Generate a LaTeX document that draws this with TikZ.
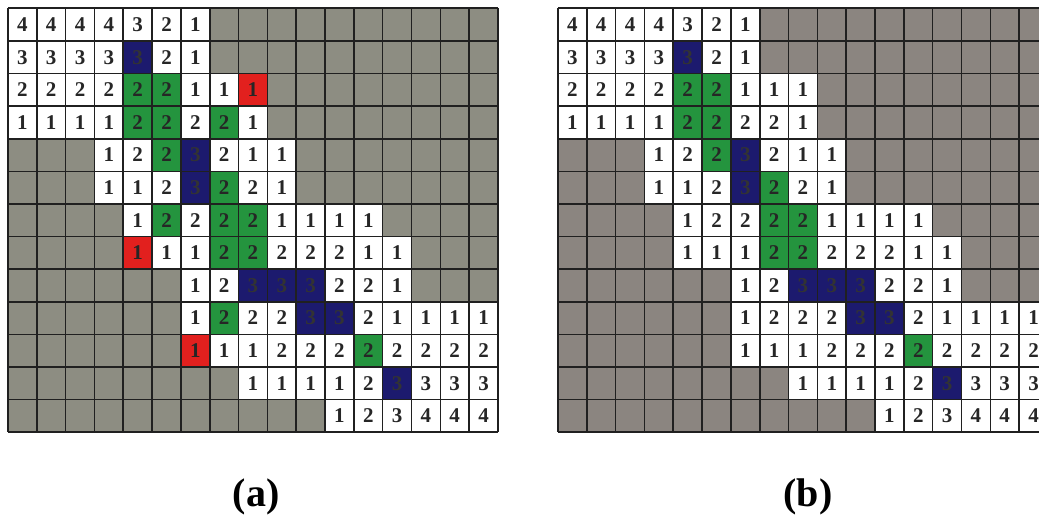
\documentclass[tikz,border=0pt]{standalone}
\usepackage{fontspec}
\setmainfont{Liberation Serif}
\usepackage{tikz}
\definecolor{cellGray}{RGB}{141,141,130}
\definecolor{cellGrayB}{RGB}{139,133,128}
\definecolor{cellGreen}{RGB}{36,148,62}
\definecolor{cellBlue}{RGB}{28,26,110}
\definecolor{cellRed}{RGB}{226,32,30}
\definecolor{gridInk}{RGB}{32,32,32}

\newcommand{\cellW}{28.82}
\newcommand{\cellH}{32.6}
%% row / {column/value/kind}: w white, g green, b blue, r red,
%% G and R are marked only in picture (a)
\newcommand{\pathcells}{%
  1/{1/4/w,2/4/w,3/4/w,4/4/w,5/3/w,6/2/w,7/1/w},
  2/{1/3/w,2/3/w,3/3/w,4/3/w,5/3/b,6/2/w,7/1/w},
  3/{1/2/w,2/2/w,3/2/w,4/2/w,5/2/g,6/2/g,7/1/w,8/1/w,9/1/R},
  4/{1/1/w,2/1/w,3/1/w,4/1/w,5/2/g,6/2/g,7/2/w,8/2/G,9/1/w},
  5/{4/1/w,5/2/w,6/2/g,7/3/b,8/2/w,9/1/w,10/1/w},
  6/{4/1/w,5/1/w,6/2/w,7/3/b,8/2/g,9/2/w,10/1/w},
  7/{5/1/w,6/2/G,7/2/w,8/2/g,9/2/g,10/1/w,11/1/w,12/1/w,13/1/w},
  8/{5/1/R,6/1/w,7/1/w,8/2/g,9/2/g,10/2/w,11/2/w,12/2/w,13/1/w,14/1/w},
  9/{7/1/w,8/2/w,9/3/b,10/3/b,11/3/b,12/2/w,13/2/w,14/1/w},
  10/{7/1/w,8/2/G,9/2/w,10/2/w,11/3/b,12/3/b,13/2/w,14/1/w,15/1/w,16/1/w,17/1/w},
  11/{7/1/R,8/1/w,9/1/w,10/2/w,11/2/w,12/2/w,13/2/g,14/2/w,15/2/w,16/2/w,17/2/w},
  12/{9/1/w,10/1/w,11/1/w,12/1/w,13/2/w,14/3/b,15/3/w,16/3/w,17/3/w},
  13/{12/1/w,13/2/w,14/3/w,15/4/w,16/4/w,17/4/w}}

\begin{document}
\begin{tikzpicture}[
    x=1pt, y=-1pt,
    cell/.style = {minimum width=\cellW pt, minimum height=\cellH pt,
                   inner sep=0pt, text=black!85,
                   font=\fontsize{21}{21}\selectfont\bfseries},
    k-w/.style = {fill=white},
    k-g/.style = {fill=cellGreen},
    k-b/.style = {fill=cellBlue, text=black!80},
    k-r/.style = {fill=cellRed},
    gridline/.style = {draw=gridInk, line width=1.6pt},
    caption/.style  = {font=\fontsize{40}{40}\selectfont\bfseries},
  ]
  \useasboundingbox (0,0) rectangle (1039,519);
  \clip (0,0) rectangle (1039,519);
  %% ── Picture (a) ───────────────────────────────────────────
  \begin{scope}[xshift=8pt, yshift=-8.3pt, k-R/.style={k-r}, k-G/.style={k-g}]
    \fill[cellGray] (0,0) rectangle (17*\cellW,13*\cellH);
    \foreach \r/\cells in \pathcells {
      \foreach \c/\v/\k in \cells {
        \node[cell, k-\k] (a-\r-\c) at ({(\c-0.5)*\cellW},{(\r-0.5)*\cellH}) {\v};
      }
    }
    \foreach \i in {0,...,17}
      \draw[gridline] (\i*\cellW,0) -- (\i*\cellW,13*\cellH);
    \foreach \j in {0,...,13}
      \draw[gridline] (0,\j*\cellH) -- (17*\cellW,\j*\cellH);
  \end{scope}
  %% ── Picture (b) ───────────────────────────────────────────
  \begin{scope}[xshift=558pt, yshift=-8.3pt, k-R/.style={k-w}, k-G/.style={k-w}]
    \fill[cellGrayB] (0,0) rectangle (17*\cellW,13*\cellH);
    \foreach \r/\cells in \pathcells {
      \foreach \c/\v/\k in \cells {
        \node[cell, k-\k] (b-\r-\c) at ({(\c-0.5)*\cellW},{(\r-0.5)*\cellH}) {\v};
      }
    }
    \foreach \i in {0,...,17}
      \draw[gridline] (\i*\cellW,0) -- (\i*\cellW,13*\cellH);
    \foreach \j in {0,...,13}
      \draw[gridline] (0,\j*\cellH) -- (17*\cellW,\j*\cellH);
  \end{scope}
  %% ── Captions ──────────────────────────────────────────────
  \node[caption] (capA) at (256,497) {(a)};
  \node[caption] (capB) at (808,497) {(b)};
\end{tikzpicture}
\end{document}
